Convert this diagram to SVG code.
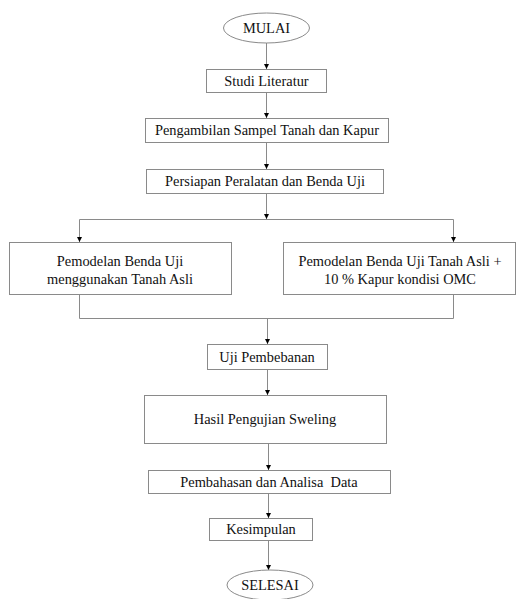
<svg xmlns="http://www.w3.org/2000/svg" width="524" height="599" viewBox="0 0 524 599">
<defs>
<marker id="ah" markerWidth="6" markerHeight="6" refX="5" refY="3" orient="auto" markerUnits="userSpaceOnUse">
<path d="M0,0.5 L5,3 L0,5.5 Z" fill="#000"/>
</marker>
</defs>
<style>
.b{fill:#fff;stroke:#8a8a8a;stroke-width:1}
.t{font-family:"Liberation Serif","Times New Roman",serif;font-size:14.4px;fill:#111;text-anchor:middle}
.c{fill:none;stroke:#8a8a8a;stroke-width:1}
</style>
<rect width="524" height="599" fill="#fff"/>
<g id="connectors">
<line class="c" x1="266.5" y1="43" x2="266.5" y2="69" marker-end="url(#ah)"/>
<line class="c" x1="266.5" y1="92" x2="266.5" y2="118" marker-end="url(#ah)"/>
<line class="c" x1="266.5" y1="142" x2="266.5" y2="169" marker-end="url(#ah)"/>
<line class="c" x1="266.5" y1="193" x2="266.5" y2="219" marker-end="url(#ah)"/>
<path class="c" d="M79.5,219.5 H453.5"/>
<line class="c" x1="79.5" y1="219.5" x2="79.5" y2="242" marker-end="url(#ah)"/>
<line class="c" x1="453.5" y1="219.5" x2="453.5" y2="242" marker-end="url(#ah)"/>
<path class="c" d="M79.5,294 V318.5 H453.5 V294"/>
<line class="c" x1="267.5" y1="318.5" x2="267.5" y2="344" marker-end="url(#ah)"/>
<line class="c" x1="267.5" y1="369" x2="267.5" y2="395" marker-end="url(#ah)"/>
<line class="c" x1="268.5" y1="443" x2="268.5" y2="470" marker-end="url(#ah)"/>
<line class="c" x1="268.5" y1="493" x2="268.5" y2="518" marker-end="url(#ah)"/>
<line class="c" x1="268.5" y1="540" x2="268.5" y2="570" marker-end="url(#ah)"/>
</g>
<g id="mulai">
<ellipse class="b" cx="266.5" cy="28" rx="43" ry="15"/>
<text class="t" x="266.5" y="33">MULAI</text>
</g>
<g id="studi">
<rect class="b" x="206.5" y="69.5" width="120" height="23"/>
<text class="t" x="266.5" y="86">Studi Literatur</text>
</g>
<g id="pengambilan">
<rect class="b" x="145.5" y="118.5" width="243" height="24"/>
<text class="t" x="267" y="135">Pengambilan Sampel Tanah dan Kapur</text>
</g>
<g id="persiapan">
<rect class="b" x="146.5" y="169.5" width="237" height="24"/>
<text class="t" x="265" y="186">Persiapan Peralatan dan Benda Uji</text>
</g>
<g id="pemodelan-asli">
<rect class="b" x="9.5" y="242.5" width="222" height="52"/>
<text class="t" x="120" y="266">Pemodelan Benda Uji</text>
<text class="t" x="120" y="284">menggunakan Tanah Asli</text>
</g>
<g id="pemodelan-kapur">
<rect class="b" x="283.5" y="242.5" width="232" height="52"/>
<text class="t" x="400" y="266">Pemodelan Benda Uji Tanah Asli +</text>
<text class="t" x="400" y="284">10 % Kapur kondisi OMC</text>
</g>
<g id="uji">
<rect class="b" x="207.5" y="344.5" width="120" height="25"/>
<text class="t" x="267" y="362">Uji Pembebanan</text>
</g>
<g id="hasil">
<rect class="b" x="144.5" y="395.5" width="242" height="48"/>
<text class="t" x="265" y="424">Hasil Pengujian Sweling</text>
</g>
<g id="pembahasan">
<rect class="b" x="148.5" y="470.5" width="242" height="23"/>
<text class="t" x="269" y="487" xml:space="preserve">Pembahasan dan Analisa  Data</text>
</g>
<g id="kesimpulan">
<rect class="b" x="209.5" y="518.5" width="103" height="22"/>
<text class="t" x="261" y="534">Kesimpulan</text>
</g>
<g id="selesai">
<ellipse class="b" cx="270" cy="585" rx="43" ry="15"/>
<text class="t" x="270" y="590">SELESAI</text>
</g>
</svg>
